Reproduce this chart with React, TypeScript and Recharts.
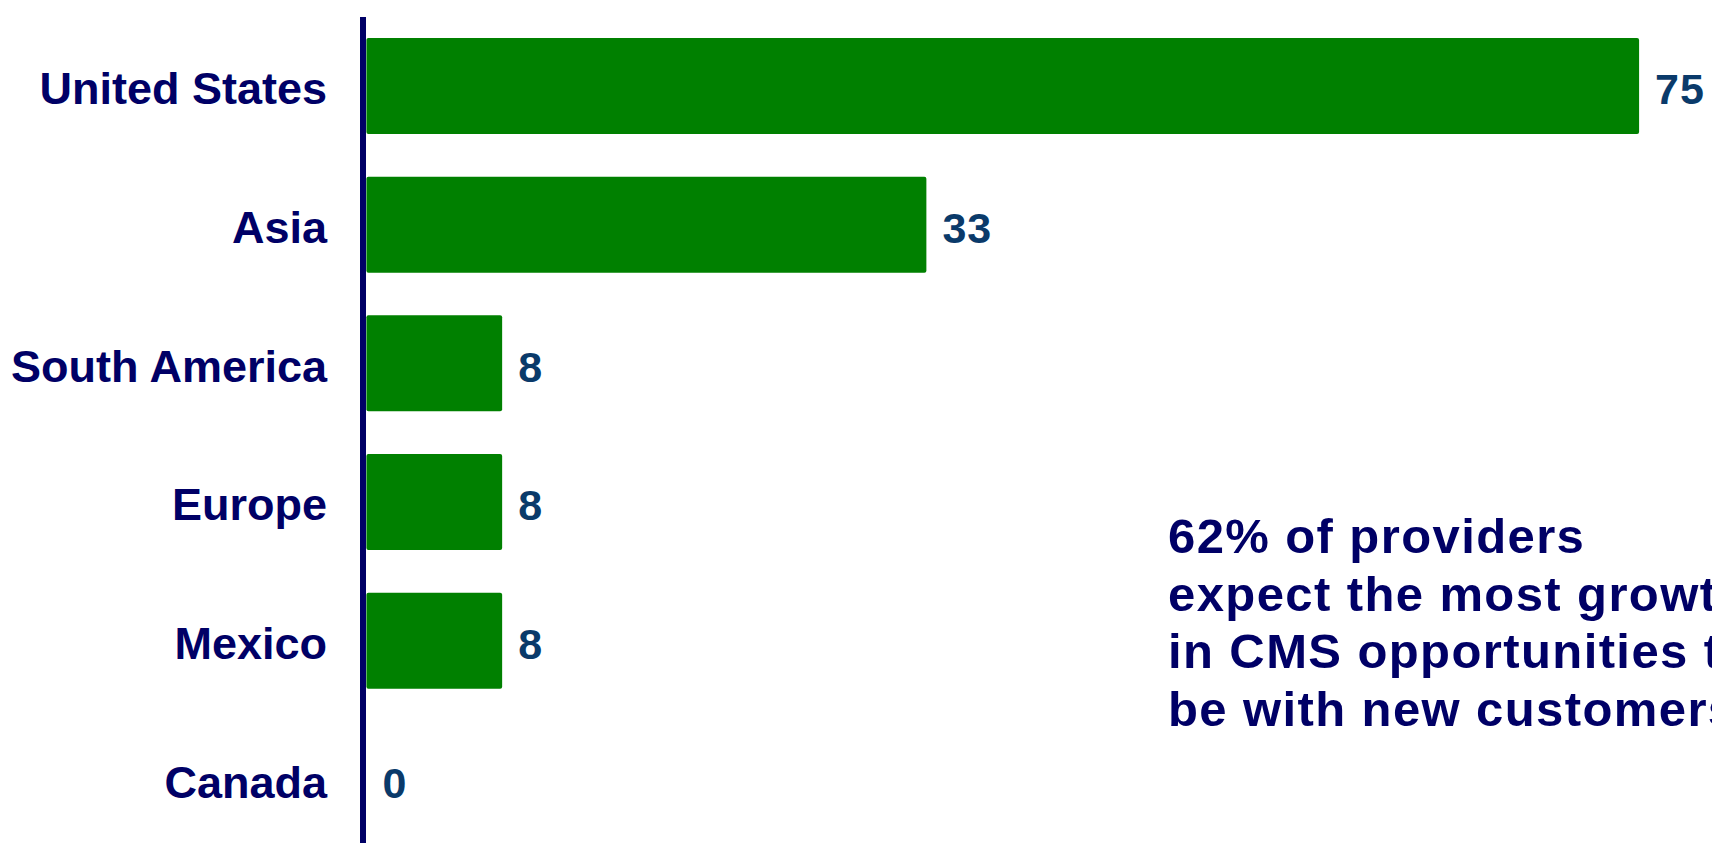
import { Bar, ComposedChart, Scatter, XAxis, YAxis } from "recharts";

const categories = ["United States", "Asia", "South America", "Europe", "Mexico", "Canada"];
const values = [75, 33, 8, 8, 8, 0];
const noteLines = [
  "62% of providers",
  "expect the most growth",
  "in CMS opportunities to",
  "be with new customers",
];

const NAVY = "#000066";
const VALUE_BLUE = "#0a3a6a";
const GREEN = "#008000";
const FONT = "'Liberation Sans', Arial, sans-serif";

const data = categories.map((name, i) => ({ name, value: values[i] }));

function CategoryTick(props: any) {
  const { x, y, payload } = props;
  return (
    <text
      x={x - 28}
      y={y}
      dy="0.4em"
      textAnchor="end"
      fill={NAVY}
      fontSize={45}
      fontWeight="bold"
      fontFamily={FONT}
    >
      {payload.value}
    </text>
  );
}

// value label drawn at the end of each bar (also for the zero bar)
function ValueLabel(props: any) {
  const { cx, cy, payload } = props;
  if (cx == null || cy == null) return null;
  return (
    <text
      x={cx + 16}
      y={cy}
      dy="0.42em"
      fill={VALUE_BLUE}
      fontSize={43}
      fontWeight="bold"
      fontFamily={FONT}
      letterSpacing={1}
    >
      {payload.value}
    </text>
  );
}

export default function App() {
  return (
    <div
      style={{
        position: "absolute",
        left: 0,
        top: 0,
        width: 1712,
        height: 843,
        overflow: "hidden",
        background: "#fff",
      }}
    >
      <ComposedChart
        layout="vertical"
        width={1712}
        height={860}
        data={data}
        margin={{ top: 17, right: 22, bottom: 11, left: 0 }}
      >
        <XAxis type="number" dataKey="value" hide domain={[-0.2, 78]} />
        <YAxis
          type="category"
          dataKey="name"
          width={363}
          axisLine={{ stroke: NAVY, strokeWidth: 6 }}
          tickLine={false}
          tick={<CategoryTick />}
        />
        <Bar dataKey="value" fill={GREEN} barSize={96} radius={2} isAnimationActive={false} />
        <Scatter dataKey="value" shape={<ValueLabel />} isAnimationActive={false} />
      </ComposedChart>
      <svg
        width={1712}
        height={843}
        style={{ position: "absolute", left: 0, top: 0, pointerEvents: "none" }}
      >
        {noteLines.map((line, i) => (
          <text
            key={line}
            x={1168}
            y={553 + i * 57.5}
            fill={NAVY}
            fontSize={49}
            fontWeight="bold"
            fontFamily={FONT}
            letterSpacing={1.4}
          >
            {line}
          </text>
        ))}
      </svg>
    </div>
  );
}
